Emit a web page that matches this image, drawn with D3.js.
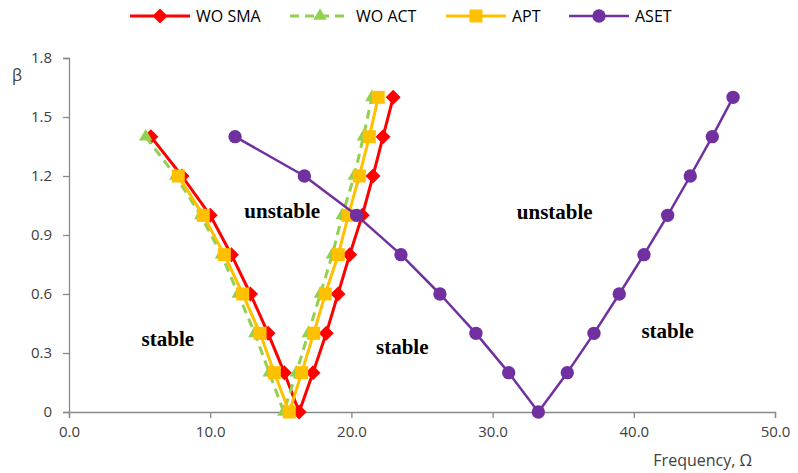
<!DOCTYPE html>
<html><head><meta charset="utf-8">
<script src="https://cdn.jsdelivr.net/npm/d3@7"></script>
<style>
body{margin:0;background:#fff;}
svg{display:block;}
</style></head>
<body>
<svg id="chart" width="798" height="473"></svg>
<script>
// ---- data ----
const betaFull = [1.4,1.2,1.0,0.8,0.6,0.4,0.2,0,0.2,0.4,0.6,0.8,1.0,1.2,1.4,1.6];
const betaApt  = [1.2,1.0,0.8,0.6,0.4,0.2,0,0.2,0.4,0.6,0.8,1.0,1.2,1.4,1.6];
const omegaWoSma = [5.8,8.0,10.0,11.5,12.85,14.1,15.25,16.3,17.28,18.22,19.05,19.88,20.77,21.53,22.24,22.96];
const omegaWoAct = [5.43,7.56,9.33,10.8,11.98,13.16,14.18,15.21,16.1,16.95,17.8,18.65,19.35,20.2,20.85,21.45];
const omegaApt   = [7.74,9.51,11.0,12.3,13.53,14.54,15.6,16.48,17.33,18.15,19.07,19.78,20.56,21.27,21.9];
const omegaAset  = [11.76,16.67,20.37,23.51,26.27,28.82,31.14,33.24,35.29,37.18,38.97,40.72,42.4,44.0,45.56,47.03];
const seriesNames = ["WO SMA","WO ACT","APT","ASET"];
const xTicks = [0,10,20,30,40,50];
const yTicks = [0,0.3,0.6,0.9,1.2,1.5,1.8];
const regionLabels = ["unstable","unstable","stable","stable","stable"];
const regionOmega  = [15.1,34.4,7.0,23.6,42.4];
const regionBeta   = [0.985,0.98,0.335,0.295,0.375];

// ---- styles ----
const colors = ["#FF0000","#92D050","#FFC000","#7030A0"];
const markers = ["diamond","triangle","square","circle"];
const dashes = [null,"9,6",null,null];
const widths = [3,3,3,2.5];

const series = [
  {name:seriesNames[0], pts:omegaWoSma.map((o,i)=>[o,betaFull[i]])},
  {name:seriesNames[1], pts:omegaWoAct.map((o,i)=>[o,betaFull[i]])},
  {name:seriesNames[2], pts:omegaApt.map((o,i)=>[o,betaApt[i]])},
  {name:seriesNames[3], pts:omegaAset.map((o,i)=>[o,betaFull[i]])}
];

const svg = d3.select("#chart");
const x = d3.scaleLinear().domain([0,50]).range([69,775]);
const y = d3.scaleLinear().domain([0,1.8]).range([412,58]);
const axisColor = "#898989", textColor = "#404040";
const uiFont = "'Open Sans', sans-serif";

// axes
const xAxis = svg.append("g").attr("transform","translate(0,412)")
  .call(d3.axisBottom(x).tickValues(xTicks).tickFormat(d3.format(".1f")).tickSizeOuter(0).tickSize(6).tickPadding(8));
const yAxis = svg.append("g").attr("transform","translate(69,0)")
  .call(d3.axisLeft(y).tickValues(yTicks).tickFormat(d=>d===0?"0":d3.format(".1f")(d)).tickSizeOuter(0).tickSize(6).tickPadding(11));
[xAxis,yAxis].forEach(g=>{
  g.select(".domain").attr("stroke",axisColor).attr("stroke-width",1.3);
  g.selectAll(".tick line").attr("stroke",axisColor).attr("stroke-width",1.3);
  g.selectAll(".tick text").attr("fill",textColor).style("font-family",uiFont).style("font-size","15px");
});

svg.append("text").attr("x",12).attr("y",81).text("β")
  .attr("fill",textColor).style("font-family",uiFont).style("font-size","16px");
svg.append("text").attr("x",752).attr("y",466).attr("text-anchor","end").text("Frequency, Ω")
  .attr("fill",textColor).style("font-family",uiFont).style("font-size","16px");

// region labels
regionLabels.forEach((t,i)=>{
  svg.append("text").attr("x",x(regionOmega[i])).attr("y",y(regionBeta[i]))
    .attr("text-anchor","middle").text(t)
    .style("font-family","'Liberation Serif', 'Times New Roman', serif")
    .style("font-weight","bold").style("font-size","21px").attr("fill","#000");
});

function markerPath(type){
  if(type==="diamond") return "M0,-7.5L7.5,0L0,7.5L-7.5,0Z";
  if(type==="triangle") return d3.symbol(d3.symbolTriangle,78)();
  if(type==="square") return "M-6.5,-6.5H6.5V6.5H-6.5Z";
  return d3.symbol(d3.symbolCircle,140)();
}

const line = d3.line().x(d=>x(d[0])).y(d=>y(d[1]));
series.forEach((s,i)=>{
  const g = svg.append("g");
  g.append("path").datum(s.pts).attr("d",line).attr("fill","none")
    .attr("stroke",colors[i]).attr("stroke-width",widths[i])
    .attr("stroke-dasharray",dashes[i]).attr("stroke-linejoin","round");
  g.selectAll("path.m").data(s.pts).join("path").attr("class","m")
    .attr("transform",d=>`translate(${x(d[0])},${y(d[1])})`)
    .attr("d",markerPath(markers[i])).attr("fill",colors[i]);
});

// legend
const legX = [130,290,446,569];
const lg = svg.append("g");
seriesNames.forEach((n,i)=>{
  const g = lg.append("g").attr("transform",`translate(${legX[i]},16)`);
  g.append("line").attr("x1",0).attr("x2",60).attr("y1",0).attr("y2",0)
    .attr("stroke",colors[i]).attr("stroke-width",widths[i]).attr("stroke-dasharray",dashes[i]);
  g.append("path").attr("transform","translate(30,0)").attr("d",markerPath(markers[i])).attr("fill",colors[i]);
  g.append("text").attr("x",66).attr("y",6).text(n).attr("fill","#000")
    .style("font-family",uiFont).style("font-size","16px");
});
</script>
</body></html>
